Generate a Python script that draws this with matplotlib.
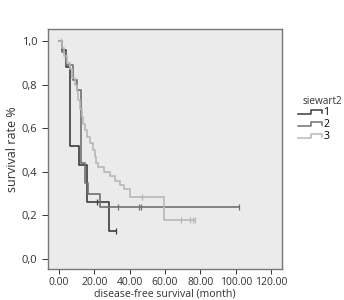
import matplotlib
matplotlib.use("Agg")
import matplotlib.pyplot as plt
from matplotlib.legend_handler import HandlerBase
from matplotlib.lines import Line2D

plt.rcParams['font.family'] = ['Open Sans', 'DejaVu Sans']

# Kaplan-Meier step points (time in months, survival after step)
t1 = [0, 1.5, 4.0, 6.5, 11.5, 15.7, 28.3, 32.3]
s1 = [1.0, 0.96, 0.88, 0.52, 0.43, 0.26, 0.13, 0.13]
c1_t = [21.3, 32.3]
c1_s = [0.26, 0.13]

t2 = [0, 2.0, 4.0, 8.1, 10.0, 12.5, 14.5, 16.5, 23.0, 101.7]
s2 = [1.0, 0.95, 0.89, 0.82, 0.775, 0.44, 0.35, 0.30, 0.24, 0.24]
c2_t = [33.4, 45.3, 46.2, 101.7]
c2_s = [0.24, 0.24, 0.24, 0.24]

t3 = [0, 1.5, 3.0, 4.5, 6.0, 7.5, 9.0, 10.2, 11.0, 11.9, 12.8, 13.8, 14.8,
      16.0, 17.5, 19.0, 20.2, 21.2, 22.1, 25.5, 28.9, 31.7, 34.5, 36.8,
      40.2, 59.4, 77.0]
s3 = [1.0, 0.97, 0.93, 0.90, 0.87, 0.83, 0.80, 0.77, 0.73, 0.69, 0.65,
      0.62, 0.59, 0.56, 0.53, 0.50, 0.47, 0.44, 0.42, 0.40, 0.38, 0.36,
      0.34, 0.32, 0.285, 0.18, 0.18]
c3_t = [1.0, 47.0, 69.0, 74.0, 76.0, 77.0]
c3_s = [1.0, 0.285, 0.18, 0.18, 0.18, 0.18]

groups = ['1', '2', '3']
colors = ['#3c3c3c', '#707070', '#b8b8b8']

xticks = [0, 20, 40, 60, 80, 100, 120]
yticks = [0.0, 0.2, 0.4, 0.6, 0.8, 1.0]


class StepHandler(HandlerBase):
    def create_artists(self, legend, orig_handle, xdescent, ydescent,
                       width, height, fontsize, trans):
        x0 = -xdescent
        y0 = -ydescent
        xs = [x0, x0 + 0.55 * width, x0 + 0.55 * width, x0 + width, x0 + width]
        ys = [y0 + 0.1 * height, y0 + 0.1 * height, y0 + 0.8 * height,
              y0 + 0.8 * height, y0 + 0.35 * height]
        ln = Line2D(xs, ys, color=orig_handle.get_color(), lw=1.1, transform=trans)
        return [ln]


fig = plt.figure(figsize=(3.44, 3.0), dpi=100)
ax = fig.add_axes([0.1395, 0.1033, 0.6803, 0.8])
ax.set_facecolor('#ebebeb')

curves = [(t1, s1, c1_t, c1_s), (t2, s2, c2_t, c2_s), (t3, s3, c3_t, c3_s)]
handles = []
for (t, s, ct, cs), col, g in zip(curves, colors, groups):
    h, = ax.step(t, s, where='post', color=col, lw=1.2, label=g)
    ax.plot(ct, cs, linestyle='none', marker='|', markersize=4, color=col, mew=0.9)
    handles.append(h)

ax.set_xlim(-6.2, 126.2)
ax.set_ylim(-0.046, 1.055)
ax.set_xticks(xticks)
ax.set_xticklabels(['%.2f' % v for v in xticks])
ax.set_yticks(yticks)
ax.set_yticklabels([('%.1f' % v).replace('.', ',') for v in yticks])
ax.tick_params(axis='x', labelsize=7.5, length=3.5, width=0.7, colors='#333333', pad=2.5)
ax.tick_params(axis='y', labelsize=8, length=4, width=0.7, colors='#333333', pad=3.5)
for sp in ax.spines.values():
    sp.set_color('#777777')
    sp.set_linewidth(1.0)

ax.set_xlabel('disease-free survival (month)', fontsize=7.6, color='#333333', labelpad=0)
ax.set_ylabel('survival rate %', fontsize=9, color='#333333', labelpad=2)

fig.legend(handles, groups, loc='upper left',
           bbox_to_anchor=(0.85, 0.66), frameon=False, fontsize=7.6,
           handler_map={Line2D: StepHandler()},
           handlelength=2.3, handleheight=0.6, handletextpad=0.15,
           labelspacing=0.1, borderpad=0)
fig.text(0.879, 0.645, 'siewart2', fontsize=7.2, color='#333333', ha='left', va='bottom')

fig.savefig('out.png', dpi=100)
